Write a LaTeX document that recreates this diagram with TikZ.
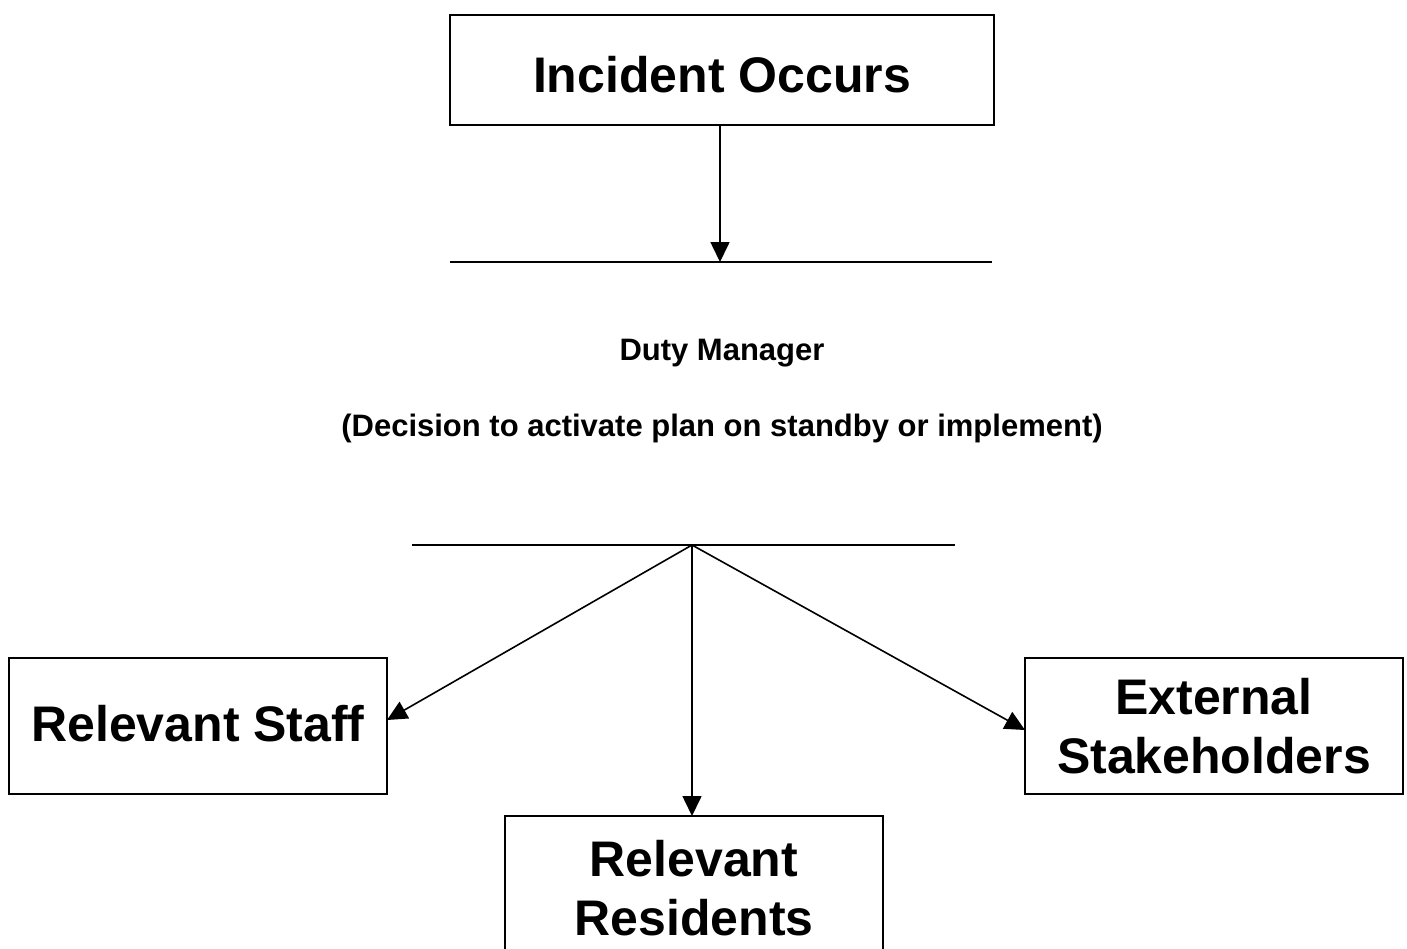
\documentclass[tikz,border=0pt]{standalone}
\usepackage{fontspec}
\setmainfont{Liberation Sans}
\usetikzlibrary{arrows.meta}
\begin{document}
\begin{tikzpicture}[x=0.5pt,y=-0.5pt,
  box/.style={draw,line width=0.9pt,inner sep=0pt,outer sep=0pt,align=center,
    font=\bfseries\fontsize{25}{29.5}\selectfont},
  lbl/.style={font=\bfseries\fontsize{15.5}{18}\selectfont,inner sep=0pt},
  conn/.style={line width=0.8pt},
  arr/.style={conn,-{Triangle[length=10pt,width=9.5pt]}}]
\useasboundingbox (0,0) rectangle (1407,948);
\clip (0,0) rectangle (1407,948);
\node[box,minimum width=272pt,minimum height=55pt] (inc) at (722,70) {\raisebox{-2.5pt}[\height][\depth]{Incident Occurs}};
\coordinate (l1a) at (450,262);
\coordinate (l1b) at (992,262);
\coordinate (l1m) at (720,262);
\draw[conn] (l1a) -- (l1b);
\draw[arr] (inc.south -| l1m) -- (l1m);
\node[lbl] (duty) at (722,353) {Duty Manager};
\node[lbl] (dec) at (722,428) {(Decision to activate plan on standby or implement)};
\coordinate (l2a) at (412,545);
\coordinate (l2b) at (955,545);
\coordinate (hub) at (692,545);
\draw[conn] (l2a) -- (l2b);
\node[box,minimum width=189pt,minimum height=68pt] (staff) at (198,726) {\raisebox{1pt}[\height][\depth]{Relevant Staff}};
\node[box,minimum width=189pt,minimum height=68pt] (ext) at (1214,726) {External\\Stakeholders};
\node[box,minimum width=189pt,minimum height=72pt] (res) at (694,888) {Relevant\\Residents};
\draw[arr] (hub) -- ([yshift=3pt]staff.east);
\draw[arr] (hub) -- (hub |- res.north);
\draw[arr] (hub) -- ([yshift=-2pt]ext.west);
\end{tikzpicture}
\end{document}
